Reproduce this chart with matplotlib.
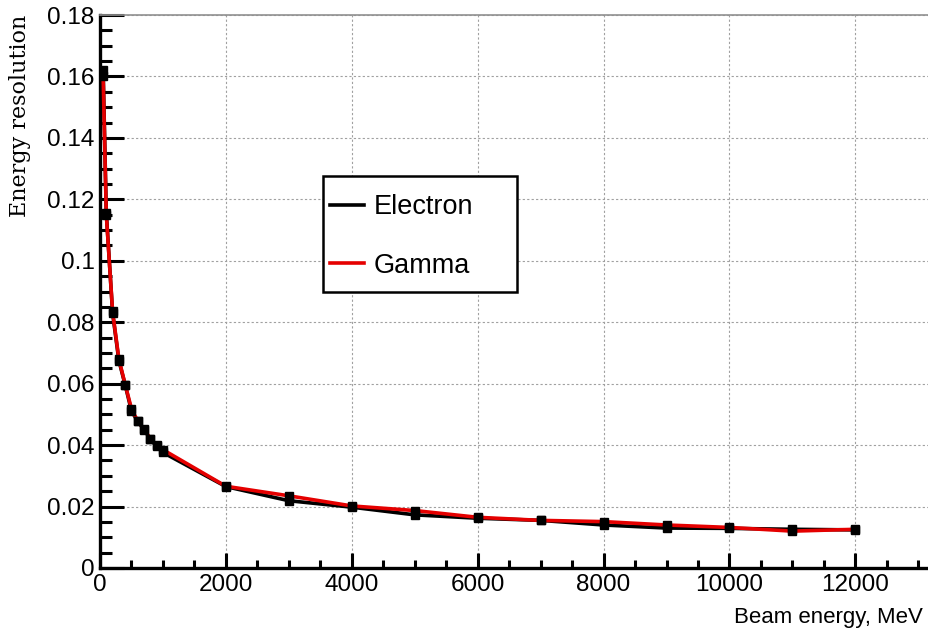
import matplotlib
matplotlib.use("Agg")
import matplotlib.pyplot as plt
from matplotlib.ticker import MultipleLocator, FuncFormatter
from matplotlib.patches import Rectangle

# beam energies, MeV
energy = [50, 100, 200, 300, 400, 500, 600, 700, 800, 900, 1000,
          2000, 3000, 4000, 5000, 6000, 7000, 8000, 9000, 10000, 11000, 12000]
# energy resolution
res_electron = [0.1620, 0.1156, 0.0830, 0.0675, 0.0596, 0.0511, 0.0477, 0.0450, 0.0419, 0.0397, 0.0376,
                0.0265, 0.0219, 0.0198, 0.0173, 0.0162, 0.0155, 0.0140, 0.0130, 0.0129, 0.0126, 0.0124]
res_gamma = [0.1600, 0.1150, 0.0835, 0.0680, 0.0597, 0.0518, 0.0478, 0.0452, 0.0421, 0.0399, 0.0385,
             0.0266, 0.0235, 0.0202, 0.0187, 0.0165, 0.0155, 0.0151, 0.0140, 0.0132, 0.0120, 0.0126]

W, H = 929, 630
fig = plt.figure(figsize=(W / 100, H / 100), dpi=100)
ax = fig.add_axes([100 / W, 1 - 568 / H, 1 - 100 / W, (568 - 15) / H])

ax.plot(energy, res_electron, color="black", lw=2.6, zorder=3)
ax.plot(energy, res_gamma, color="#e50000", lw=2.6, zorder=4)
# black square markers on top of both curves
ax.plot(energy, res_electron, ls="none", marker="s", ms=5.5, color="black", zorder=5)
ax.plot(energy, res_gamma, ls="none", marker="s", ms=5.5, color="black", zorder=5)

ax.set_xlim(0, 13170)
ax.set_ylim(0, 0.18)

ax.xaxis.set_major_locator(MultipleLocator(2000))
ax.xaxis.set_minor_locator(MultipleLocator(500))
ax.yaxis.set_major_locator(MultipleLocator(0.02))
ax.yaxis.set_minor_locator(MultipleLocator(0.005))
ax.yaxis.set_major_formatter(FuncFormatter(lambda v, p: "%g" % round(v, 3)))
ax.xaxis.set_major_formatter(FuncFormatter(lambda v, p: "%d" % v))

ax.grid(True, which="major", color="#a0a0a0", lw=0.8, ls=(0, (2, 2)))
ax.set_axisbelow(True)

for s in ["left", "bottom"]:
    ax.spines[s].set_linewidth(2.4)
ax.spines["right"].set_visible(False)
ax.spines["top"].set_color("#909090")
ax.spines["top"].set_linewidth(1.2)

ax.tick_params(axis="y", which="major", direction="in", length=17, width=2.2, pad=4)
ax.tick_params(axis="y", which="minor", direction="in", length=8.5, width=2.2)
ax.tick_params(axis="x", which="major", direction="in", length=11, width=2.2, pad=4)
ax.tick_params(axis="x", which="minor", direction="in", length=5.5, width=2.2)
for lab in ax.get_xticklabels() + ax.get_yticklabels():
    lab.set_fontfamily("Liberation Sans")
    lab.set_fontsize(17.5)

fig.text(923 / W, 1 - 628 / H, "Beam energy, MeV", ha="right", va="bottom",
         fontsize=16, family="Liberation Sans")
fig.text(20 / W, 1 - 15 / H, "Energy resolution", ha="center", va="top",
         rotation=90, fontsize=16, family="DejaVu Serif")

# legend box
fig.patches.append(Rectangle((323 / W, 1 - 292 / H), 194 / W, 116 / H,
                             transform=fig.transFigure, fill=True, facecolor="white",
                             edgecolor="black", lw=1.8, zorder=6))
leg = fig.legend(["Electron", "Gamma"], loc="center left",
                 bbox_to_anchor=(330 / W, 1 - 236.5 / H), frameon=False,
                 prop={"family": "Liberation Sans", "size": 19.5},
                 handlelength=1.25, handletextpad=0.35, labelspacing=1.2,
                 borderpad=0, borderaxespad=0)
leg.set_zorder(7)
fig.savefig("out.png", dpi=100)
